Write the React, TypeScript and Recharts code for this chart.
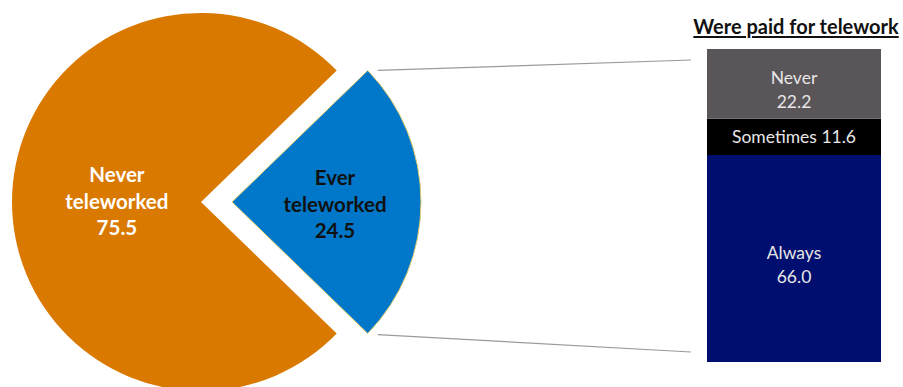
import React from 'react';
import { PieChart, Pie, Cell, BarChart, Bar, XAxis, YAxis, LabelList } from 'recharts';

// pie: share of workers who ever teleworked
const pieNames = ['Ever teleworked', 'Never teleworked'];
const pieValues = [24.5, 75.5];
const pieColors = ['#0077c8', '#da7900'];

// bar: among those who teleworked, were they paid for it
const paidNames = ['Always', 'Sometimes', 'Never'];
const paidValues = [66.0, 11.6, 22.2];
const paidColors = ['#000f6f', '#000000', '#5a5559'];

const pieData = pieNames.map((name, i) => ({ name, value: pieValues[i] }));
const barRow: Record<string, any> = { name: 'paid' };
paidNames.forEach((n, i) => { barRow[n] = paidValues[i]; });

const FONT = 'Lato, "Noto Sans", sans-serif';
const RAD = Math.PI / 180;
const R = 189;
const START = 44.1; // half of the blue slice, so it points right

const makePieLabel = (which: number) => (props: any) => {
  const { cx, cy, midAngle, outerRadius, index, name, value } = props;
  if (index !== which) return null;
  const ratio = which === 0 ? 0.545 : 0.445;
  const x = cx + outerRadius * ratio * Math.cos(-midAngle * RAD);
  const y = cy + outerRadius * ratio * Math.sin(-midAngle * RAD) + (which === 0 ? 3 : 0);
  const [first, second] = name.split(' ');
  const fill = which === 0 ? '#111111' : '#ffffff';
  return (
    <text x={x} y={y} textAnchor="middle" fill={fill} fontFamily={FONT} fontWeight={700} fontSize={20.5}>
      <tspan x={x} dy={-20}>{first}</tspan>
      <tspan x={x} dy={26.5}>{second}</tspan>
      <tspan x={x} dy={26.5}>{value.toFixed(1)}</tspan>
    </text>
  );
};

const barLabel = (label: string, oneLine: boolean) => (props: any) => {
  const { x, y, width, height, value } = props;
  const mx = x + width / 2;
  const my = y + height / 2;
  if (oneLine) {
    return (
      <text x={mx} y={my + 6.5} textAnchor="middle" fill="#e6e6e6" fontFamily={FONT} fontSize={17.5}>
        {`${label} ${Number(value).toFixed(1)}`}
      </text>
    );
  }
  return (
    <text x={mx} y={my + 6} textAnchor="middle" fill="#e6e6e6" fontFamily={FONT} fontSize={17.5}>
      <tspan x={mx} dy={-5.5}>{label}</tspan>
      <tspan x={mx} dy={23.5}>{Number(value).toFixed(1)}</tspan>
    </text>
  );
};

export default function App() {
  const cy = 202;
  const cxMain = 201;
  const cxOut = 232;
  // blue slice corners, used to anchor the connector lines
  const topX = cxOut + R * Math.cos(START * RAD);
  const topY = cy - R * Math.sin(START * RAD);
  const botY = cy + R * Math.sin(START * RAD);

  return (
    <div style={{ position: 'relative', width: 903, height: 387, background: '#fff', overflow: 'hidden' }}>
      <style>{'body{margin:0}'}</style>

      <div style={{ position: 'absolute', left: 0, top: 0 }}>
        <PieChart width={460} height={387} margin={{ top: 0, right: 0, bottom: 0, left: 0 }}>
          <Pie
            data={pieData}
            dataKey="value"
            cx={cxMain}
            cy={cy}
            outerRadius={R}
            startAngle={START}
            endAngle={START - 360}
            isAnimationActive={false}
            labelLine={false}
            label={makePieLabel(1)}
          >
            {pieData.map((d, i) => (
              <Cell key={d.name} fill={i === 1 ? pieColors[1] : 'transparent'} stroke="none" />
            ))}
          </Pie>
          <Pie
            data={pieData}
            dataKey="value"
            cx={cxOut}
            cy={cy}
            outerRadius={R}
            startAngle={START}
            endAngle={START - 360}
            isAnimationActive={false}
            labelLine={false}
            label={makePieLabel(0)}
          >
            {pieData.map((d, i) => (
              <Cell
                key={d.name}
                fill={i === 0 ? pieColors[0] : 'transparent'}
                stroke={i === 0 ? '#e3cf74' : 'none'}
                strokeWidth={1}
              />
            ))}
          </Pie>
        </PieChart>
      </div>

      <svg width={903} height={387} style={{ position: 'absolute', left: 0, top: 0, pointerEvents: 'none' }}>
        <line x1={topX + 10} y1={topY} x2={691} y2={60} stroke="#9a9a9a" strokeWidth={1.2} />
        <line x1={topX + 10} y1={botY + 1} x2={691} y2={352} stroke="#9a9a9a" strokeWidth={1.2} />
      </svg>

      <div
        style={{
          position: 'absolute', left: 686, top: 14, width: 220, textAlign: 'center',
          fontFamily: FONT, fontWeight: 700, fontSize: 20, color: '#111',
          textDecoration: 'underline', textUnderlineOffset: 2, whiteSpace: 'nowrap',
        }}
      >
        Were paid for telework
      </div>

      <div style={{ position: 'absolute', left: 707, top: 49 }}>
        <BarChart width={174} height={313} data={[barRow]} margin={{ top: 0, right: 0, bottom: 0, left: 0 }} barCategoryGap={0}>
          <XAxis dataKey="name" hide />
          <YAxis hide domain={[0, 'dataMax']} />
          {paidNames.map((n, i) => (
            <Bar key={n} dataKey={n} stackId="a" fill={paidColors[i]} isAnimationActive={false}>
              <LabelList dataKey={n} content={barLabel(n, n === 'Sometimes')} />
            </Bar>
          ))}
        </BarChart>
      </div>
    </div>
  );
}
